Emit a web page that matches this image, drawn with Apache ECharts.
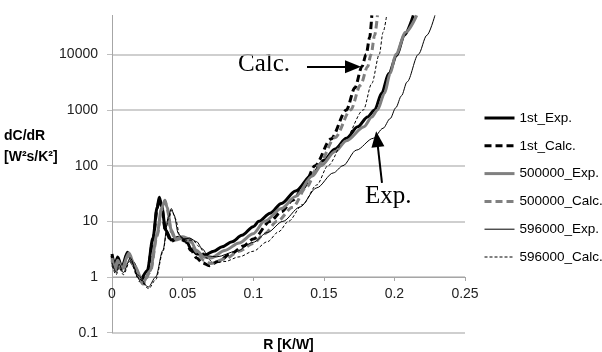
<!DOCTYPE html>
<html lang="en">
<head>
    <meta charset="UTF-8">
    <title>dC/dR</title>
    <script src="https://cdn.jsdelivr.net/npm/echarts@6/dist/echarts.min.js"></script>
    <style>
        html, body { margin: 0; padding: 0; background: #fff; }
    </style>
</head>
<body>
    <div id="chart" style="width: 602px; height: 352px;"></div>
    <script>
        // data: [R, dC/dR]
        let exp1 = [[0,2.6],[0.002,1.6],[0.004,2.3],[0.007,1.5],[0.011,2.8],[0.015,1.8],[0.02,0.9],[0.025,1.3],[0.029,5],[0.032,18],[0.0335,27],[0.035,20],[0.038,7],[0.042,4.6],[0.047,5.2],[0.052,4.8],[0.056,3.2],[0.06,2.6],[0.066,2.5],[0.072,2.9],[0.078,3.5],[0.085,4.3],[0.092,5.6],[0.1,8],[0.104,10],[0.112,14],[0.12,21],[0.13,35],[0.142,70],[0.15,125],[0.158,200],[0.166,310],[0.174,500],[0.181,750],[0.186,1000],[0.191,2000],[0.196,4500],[0.2016,9500],[0.207,22000],[0.2134,50000]];
        let calc1 = [[0,2.4],[0.002,1.5],[0.004,2.1],[0.007,1.4],[0.011,2.6],[0.015,1.7],[0.02,0.85],[0.025,1.2],[0.029,4.5],[0.032,17],[0.0335,25],[0.035,19],[0.038,6.5],[0.042,4.4],[0.047,5],[0.052,4.4],[0.056,3.0],[0.06,2.2],[0.064,1.8],[0.069,1.6],[0.075,1.9],[0.085,2.7],[0.093,3.6],[0.1,4.8],[0.112,10],[0.12,15],[0.128,24],[0.1355,40],[0.1438,100],[0.155,300],[0.166,1000],[0.172,2500],[0.177,6000],[0.18,10000],[0.1825,20000],[0.184,50000]];
        let exp500 = [[0,2.2],[0.002,1.4],[0.004,2.0],[0.007,1.4],[0.012,2.7],[0.016,1.6],[0.022,0.8],[0.027,1.3],[0.032,6],[0.035,17],[0.0375,24],[0.039,18],[0.042,7],[0.045,4.8],[0.05,5.3],[0.055,4.8],[0.06,3.0],[0.065,2.3],[0.07,2.2],[0.08,3.0],[0.09,4.1],[0.1,6],[0.108,10],[0.12,17],[0.13,28],[0.142,65],[0.148,100],[0.158,180],[0.166,280],[0.1785,500],[0.184,750],[0.188,1000],[0.193,2000],[0.197,4500],[0.201,10000],[0.208,25000],[0.2158,50000]];
        let calc500 = [[0,2.0],[0.002,1.3],[0.004,1.9],[0.007,1.3],[0.012,2.5],[0.016,1.5],[0.022,0.75],[0.027,1.2],[0.032,5.5],[0.035,16],[0.0375,23],[0.039,17],[0.042,6.5],[0.045,4.6],[0.05,5.0],[0.055,4.4],[0.06,2.8],[0.065,2.0],[0.07,1.75],[0.08,2.1],[0.09,2.9],[0.1,4.0],[0.108,6],[0.117,10],[0.128,18],[0.138,42],[0.146,100],[0.158,320],[0.169,1000],[0.176,2800],[0.181,6000],[0.1835,10000],[0.186,22000],[0.188,50000]];
        let exp596 = [[0,1.8],[0.003,1.2],[0.005,1.7],[0.008,1.2],[0.013,2.2],[0.018,1.1],[0.0257,0.66],[0.031,1.0],[0.036,3],[0.04,12],[0.042,17],[0.044,13],[0.047,6],[0.05,4.8],[0.055,5],[0.06,4.3],[0.064,3.2],[0.068,2.4],[0.074,2.3],[0.088,2.9],[0.1,4.2],[0.11,6.3],[0.121,10],[0.133,18],[0.145,40],[0.1567,74],[0.1636,100],[0.173,190],[0.185,310],[0.192,470],[0.197,700],[0.201,1100],[0.205,1800],[0.209,3200],[0.217,10000],[0.223,22000],[0.2287,50000]];
        let calc596 = [[0,1.6],[0.003,1.1],[0.005,1.5],[0.008,1.1],[0.013,2.0],[0.018,1.0],[0.026,0.62],[0.031,0.9],[0.036,2.8],[0.04,11],[0.0425,16],[0.045,11],[0.048,5.5],[0.052,4.6],[0.057,4.6],[0.062,3.5],[0.067,2.2],[0.072,1.8],[0.08,1.9],[0.09,2.3],[0.1,2.9],[0.11,4.3],[0.118,6.5],[0.125,10],[0.135,20],[0.145,45],[0.153,100],[0.165,300],[0.178,1000],[0.184,3000],[0.1893,10000],[0.192,25000],[0.1945,50000]];

        let seriesNames = ['1st_Exp.', '1st_Calc.', '500000_Exp.', '500000_Calc.', '596000_Exp.', '596000_Calc.'];
        // arrows pointing at the two groups of curves
        let calcArrow = [[0.1381, 6000], [0.1707, 6000]];
        let expArrow = [[0.1912, 49], [0.1877, 300]];

        let font = '"Liberation Sans", Arial, sans-serif';
        let myChart = echarts.init(document.getElementById('chart'));

        function makeLine(name, data, color, width, type) {
            return {
                name: name,
                type: 'line',
                data: data,
                symbol: 'none',
                smooth: 0.3,
                smoothMonotone: 'x',
                lineStyle: { color: color, width: width, type: type },
                itemStyle: { color: color },
                z: 3
            };
        }

        let series = [
            makeLine(seriesNames[0], exp1, '#000000', 3, 'solid'),
            makeLine(seriesNames[1], calc1, '#000000', 3, [7, 4]),
            makeLine(seriesNames[2], exp500, '#808080', 3, 'solid'),
            makeLine(seriesNames[3], calc500, '#808080', 3, [7, 4]),
            makeLine(seriesNames[4], exp596, '#000000', 1, 'solid'),
            makeLine(seriesNames[5], calc596, '#000000', 1, [3, 2])
        ];
        series[0].markLine = {
            silent: true,
            symbol: ['none', 'triangle'],
            symbolSize: [13, 16],
            label: { show: false },
            lineStyle: { color: '#000', width: 2, type: 'solid' },
            data: [
                [{ coord: calcArrow[0] }, { coord: calcArrow[1] }],
                [{ coord: expArrow[0] }, { coord: expArrow[1] }]
            ]
        };

        let option = {
            animation: false,
            textStyle: { fontFamily: font },
            grid: { left: 112, right: 137, top: 15.4, bottom: 19.3, outerBoundsMode: 'none', containLabel: false },
            legend: {
                orient: 'vertical',
                left: 483,
                top: 111,
                padding: 0,
                itemWidth: 30,
                itemHeight: 12,
                itemGap: 13.8,
                data: seriesNames,
                itemStyle: { opacity: 0 },
                lineStyle: { width: 'inherit', type: 'inherit' },
                textStyle: { fontSize: 13.5, color: '#000', fontFamily: font }
            },
            xAxis: {
                type: 'value',
                min: 0,
                max: 0.25,
                interval: 0.05,
                position: 'bottom',
                offset: -55.7,
                name: 'R [K/W]',
                nameLocation: 'middle',
                nameGap: 61,
                nameTextStyle: { fontSize: 14, fontWeight: 'bold', color: '#000' },
                axisLine: { lineStyle: { color: '#a6a6a6', width: 1 } },
                axisTick: { show: true, length: 4, lineStyle: { color: '#a6a6a6' } },
                axisLabel: { fontSize: 14, color: '#222', margin: 10 },
                splitLine: { show: false }
            },
            yAxis: {
                type: 'log',
                logBase: 10,
                min: 0.1,
                max: 50000,
                axisLine: { show: true, lineStyle: { color: '#a6a6a6', width: 1 } },
                axisTick: { show: true, length: 5, lineStyle: { color: '#bfbfbf' } },
                axisLabel: {
                    fontSize: 14, color: '#222', margin: 14, showMaxLabel: false,
                    formatter: function (v) { return String(v); }
                },
                splitLine: { show: true, showMaxLine: false, lineStyle: { color: '#bfbfbf', width: 1.5 } }
            },
            graphic: [
                {
                    type: 'text', left: 4, top: 126,
                    style: { text: 'dC/dR\n[W²s/K²]', fontFamily: font, fontSize: 14, fontWeight: 'bold', fill: '#000', align: 'center', lineHeight: 21 }
                },
                {
                    type: 'text', left: 238, top: 52,
                    style: { text: 'Calc.', fontFamily: '"Liberation Serif", "Times New Roman", serif', fontSize: 25, fill: '#000' }
                },
                {
                    type: 'text', left: 365, top: 184,
                    style: { text: 'Exp.', fontFamily: '"Liberation Serif", "Times New Roman", serif', fontSize: 25, fill: '#000' }
                }
            ],
            series: series
        };

        myChart.setOption(option);
    </script>
</body>
</html>
